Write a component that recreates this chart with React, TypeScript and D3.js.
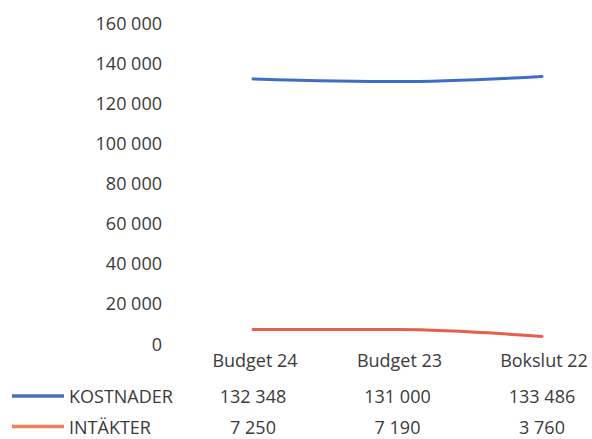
import React from "react";
import * as d3 from "d3";

const categories = ["Budget 24", "Budget 23", "Bokslut 22"];
const seriesNames = ["KOSTNADER", "INTÄKTER"];
const kostnader = [132348, 131000, 133486];
const intakter = [7250, 7190, 3760];
const yTicks = [0, 20000, 40000, 60000, 80000, 100000, 120000, 140000, 160000];
const colors = ["#3e6ec4", "#ea5c4c"];
const legendColors = ["#4a6fc0", "#f08060"];

const fmt = (v: number) => d3.format(",")(v).replace(/,/g, " ");

export default function App() {
  const W = 592, H = 439;
  const x = d3.scalePoint<string>().domain(categories).range([253, 542]);
  const y = d3.scaleLinear().domain([0, 160000]).range([344, 23.5]);
  const series = [kostnader, intakter];
  const line = d3.line<number>().x((_, i) => x(categories[i])!).y(d => y(d)).curve(d3.curveMonotoneX);
  const font = "'Open Sans', sans-serif";
  const textColor = "#3a3a3a";
  const fs = 18;
  const rowBase = [403, 433.5];
  return (
    <svg width={W} height={H} style={{ position: "absolute", left: 0, top: 0, background: "#fff" }} fontFamily={font}>
      {yTicks.map(t => (
        <text key={t} x={162} y={y(t) + 6.5} textAnchor="end" fontSize={fs} fill={textColor}>{fmt(t)}</text>
      ))}
      {series.map((s, i) => (
        <path key={i} d={line(s)!} fill="none" stroke={colors[i]} strokeWidth={3} strokeLinecap="round" />
      ))}
      {categories.map(c => (
        <text key={c} x={x(c)! + 2} y={367} textAnchor="middle" fontSize={fs} fill={textColor}>{c}</text>
      ))}
      {series.map((s, i) => (
        <g key={i}>
          <line x1={12} x2={64} y1={rowBase[i] - 7} y2={rowBase[i] - 7} stroke={legendColors[i]} strokeWidth={3.5} />
          <text x={69} y={rowBase[i]} fontSize={fs} fill={textColor}>{seriesNames[i]}</text>
          {s.map((v, j) => (
            <text key={j} x={x(categories[j])} y={rowBase[i]} textAnchor="middle" fontSize={fs} fill={textColor}>{fmt(v)}</text>
          ))}
        </g>
      ))}
    </svg>
  );
}
